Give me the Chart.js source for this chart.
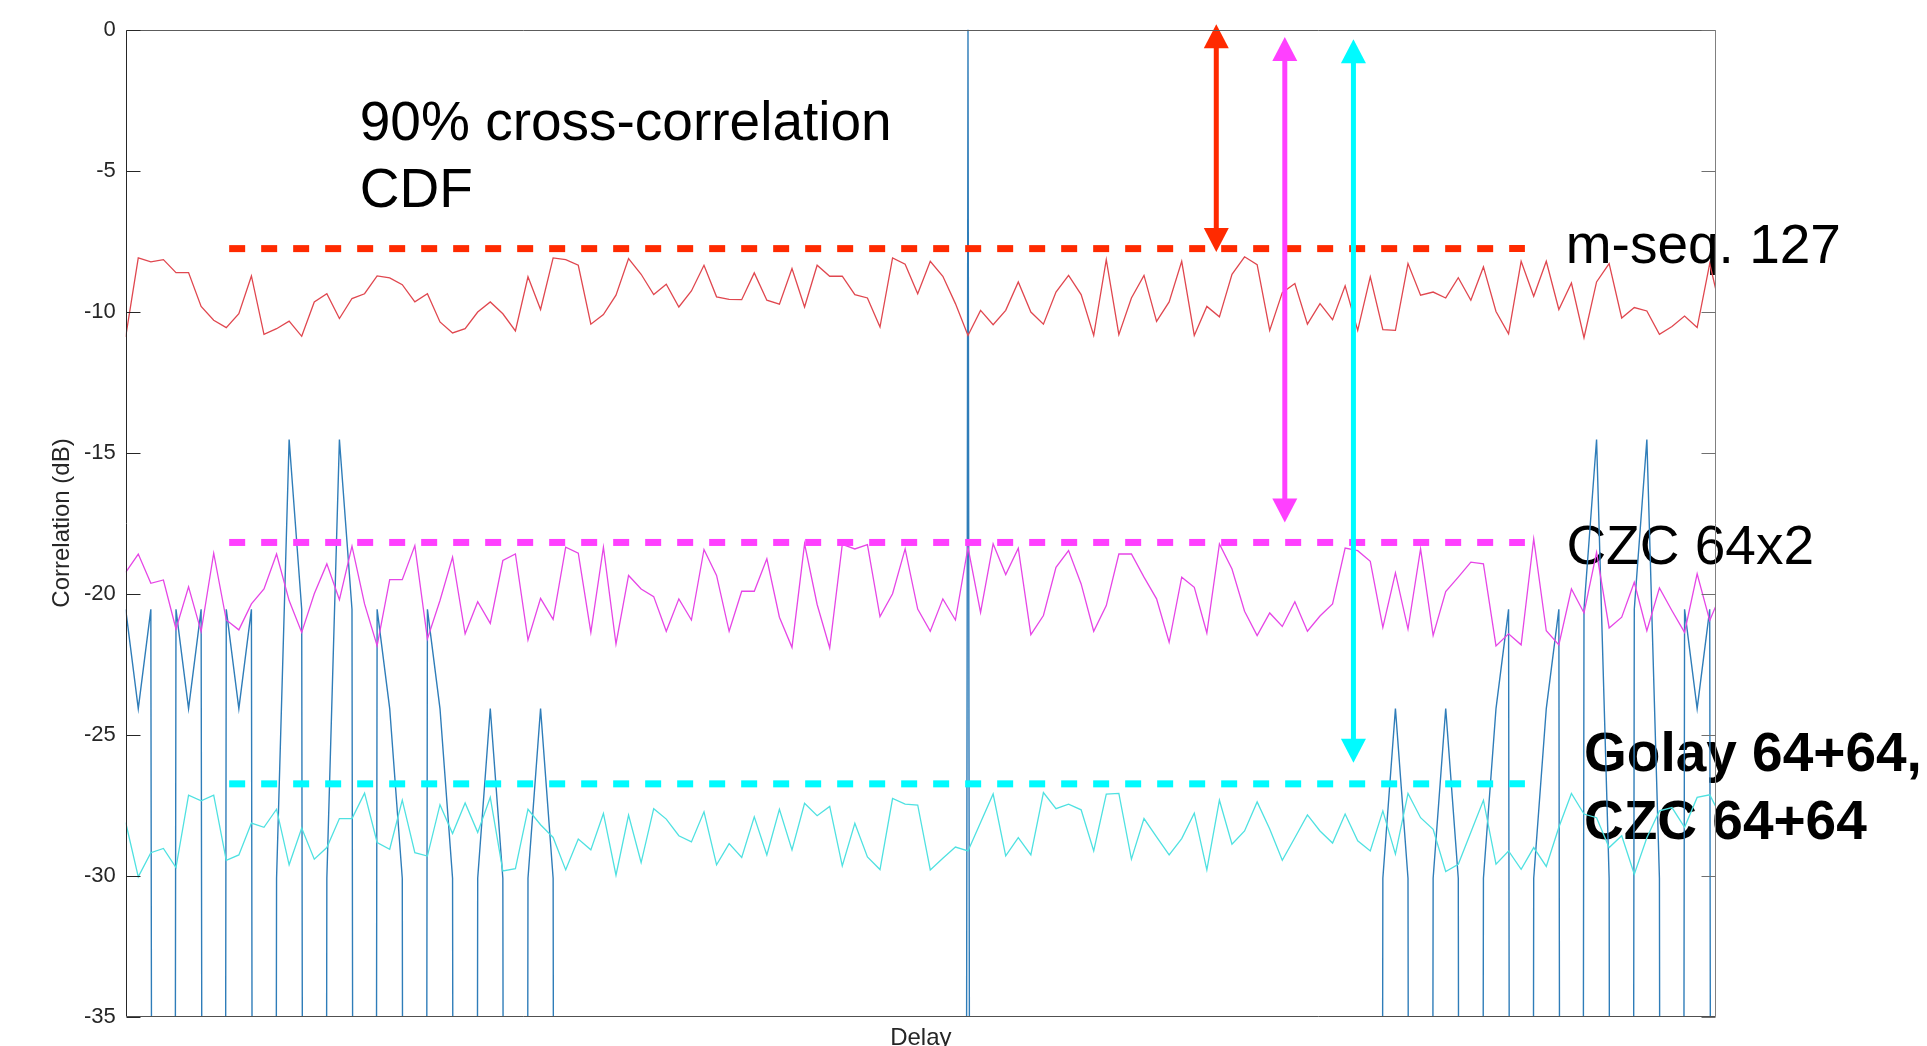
<!DOCTYPE html>
<html>
<head>
<meta charset="utf-8">
<script src="https://cdn.jsdelivr.net/npm/chart.js@4.4.1/dist/chart.umd.min.js"></script>
<style>
html,body{margin:0;padding:0;background:#ffffff;overflow:hidden}
canvas{display:block}
</style>
</head>
<body>
<canvas id="c" width="1927" height="1046"></canvas>
<script>
// ---------------- DATA ----------------
const delays = [0,1,2,3,4,5,6,7,8,9,10,11,12,13,14,15,16,17,18,19,20,21,22,23,24,25,26,27,28,29,
30,31,32,33,34,35,36,37,38,39,40,41,42,43,44,45,46,47,48,49,50,51,52,53,54,55,56,57,58,59,
60,61,62,63,64,65,66,67,68,69,70,71,72,73,74,75,76,77,78,79,80,81,82,83,84,85,86,87,88,89,
90,91,92,93,94,95,96,97,98,99,100,101,102,103,104,105,106,107,108,109,110,111,112,113,114,115,116,117,118,119,
120,121,122,123,124,125,126,127];

// m-sequence 127 cross-correlation (dB)
const mseq127 = [-10.9,-8.1,-8.24,-8.16,-8.62,-8.62,-9.82,-10.31,-10.57,-10.08,
-8.74,-10.81,-10.61,-10.34,-10.88,-9.66,-9.37,-10.25,-9.54,-9.37,
-8.74,-8.81,-9.05,-9.66,-9.37,-10.37,-10.76,-10.61,-10.02,-9.66,
-10.08,-10.69,-8.77,-9.93,-8.1,-8.16,-8.36,-10.45,-10.11,-9.42,
-8.12,-8.68,-9.4,-9.03,-9.84,-9.27,-8.36,-9.48,-9.57,-9.58,
-8.63,-9.6,-9.74,-8.48,-9.84,-8.36,-8.75,-8.75,-9.4,-9.52,
-10.55,-8.1,-8.32,-9.37,-8.22,-8.75,-9.72,-10.85,-9.96,-10.47,
-9.96,-8.95,-10.02,-10.45,-9.31,-8.72,-9.4,-10.85,-8.16,-10.82,
-9.52,-8.72,-10.35,-9.66,-8.22,-10.85,-9.82,-10.19,-8.68,-8.06,
-8.34,-10.67,-9.33,-9.01,-10.45,-9.72,-10.29,-9.09,-10.67,-8.77,
-10.64,-10.67,-8.3,-9.42,-9.31,-9.52,-8.8,-9.6,-8.42,-10.0,
-10.79,-8.22,-9.46,-8.22,-9.93,-8.99,-10.93,-8.95,-8.3,-10.23,
-9.86,-9.98,-10.81,-10.53,-10.16,-10.57,-8.3,-10.2];

// CZC 64x2 cross-correlation (dB)
const czc64x2 = [-19.25,-18.6,-19.64,-19.52,-21.26,-19.76,-21.35,-18.57,-20.94,-21.29,
-20.37,-19.84,-18.6,-20.25,-21.38,-20.01,-18.95,-20.22,-18.32,-20.37,
-21.85,-19.51,-19.51,-18.3,-21.61,-20.25,-18.71,-21.43,-20.29,-21.06,
-18.83,-18.6,-21.65,-20.17,-20.92,-18.36,-18.57,-21.38,-18.36,-21.79,
-19.36,-19.84,-20.11,-21.34,-20.19,-20.94,-18.44,-19.36,-21.34,-19.92,
-19.92,-18.77,-20.84,-21.91,-18.24,-20.39,-21.93,-18.26,-18.42,-18.27,
-20.82,-20.01,-18.42,-20.55,-21.34,-20.19,-20.94,-18.36,-20.67,-18.24,
-19.33,-18.39,-21.46,-20.78,-19.07,-18.48,-19.66,-21.34,-20.43,-18.6,
-18.6,-19.42,-20.19,-21.73,-19.42,-19.78,-21.4,-18.24,-19.13,-20.63,
-21.49,-20.69,-21.17,-20.29,-21.34,-20.8,-20.37,-18.39,-18.48,-18.86,
-21.2,-19.27,-21.26,-18.42,-21.49,-19.93,-19.42,-18.89,-18.95,-21.86,
-21.43,-21.82,-18.06,-21.32,-21.82,-19.84,-20.69,-18.54,-21.22,-20.84,
-19.6,-21.32,-19.8,-20.61,-21.38,-19.3,-20.96,-19.9];

// Golay 64+64 / CZC 64+64 cross-correlation (dB)
const golayCzc = [-28.12,-30.05,-29.19,-29.04,-29.72,-27.15,-27.35,-27.15,-29.46,-29.27,
-28.14,-28.29,-27.65,-29.62,-28.32,-29.42,-29.01,-27.98,-27.98,-27.08,
-28.83,-29.07,-27.33,-29.19,-29.31,-27.49,-28.51,-27.43,-28.47,-27.23,
-29.84,-29.76,-27.65,-28.2,-28.65,-29.8,-28.71,-29.09,-27.8,-29.99,
-27.86,-29.54,-27.63,-28.0,-28.59,-28.81,-27.74,-29.62,-28.87,-29.36,
-27.92,-29.27,-27.65,-29.09,-27.44,-27.88,-27.55,-29.66,-28.15,-29.34,
-29.79,-27.27,-27.47,-27.5,-29.8,-29.39,-28.99,-29.13,-28.12,-27.11,
-29.3,-28.66,-29.27,-27.06,-27.63,-27.47,-27.67,-29.13,-27.11,-27.09,
-29.42,-27.98,-28.63,-29.27,-28.69,-27.79,-29.8,-27.33,-28.89,-28.42,
-27.39,-28.35,-29.46,-28.66,-27.85,-28.42,-28.85,-27.82,-28.77,-29.13,
-27.71,-29.24,-27.09,-27.95,-28.36,-29.86,-29.6,-28.47,-27.33,-29.6,
-29.13,-29.78,-29.01,-29.68,-28.29,-27.09,-27.82,-27.95,-29.01,-28.59,
-29.95,-28.66,-27.71,-27.59,-28.29,-27.23,-27.14,-28.0];

// Autocorrelation (dB); L stands for an exact zero (-Inf dB)
const L = -320;
const golayAuto = [-20.56,-24.08,-20.56,L,-20.56,-24.08,-20.56,L,-20.56,-24.08,
-20.56,L,-30.1,-14.54,-20.56,L,-30.1,-14.54,-20.56,L,
-20.56,-24.08,-30.1,L,-20.56,-24.08,-30.1,L,-30.1,-24.08,
-30.1,L,-30.1,-24.08,-30.1,L,L,L,L,L,
L,L,L,L,L,L,L,L,L,L,
L,L,L,L,L,L,L,L,L,L,
L,L,L,L,L,L,L,0,L,L,
L,L,L,L,L,L,L,L,L,L,
L,L,L,L,L,L,L,L,L,L,
L,L,L,L,L,L,L,L,L,L,
-30.1,-24.08,-30.1,L,-30.1,-24.08,-30.1,L,-30.1,-24.08,
-20.56,L,-30.1,-24.08,-20.56,L,-20.56,-14.54,-30.1,L,
-20.56,-14.54,-30.1,L,-20.56,-24.08,-20.56,L];

// 90% CDF thresholds (dB)
const cdf90Labels = ['m-seq. 127', 'CZC 64x2', 'Golay 64+64, CZC 64+64'];
const cdf90Values = [-7.77, -18.19, -26.75];
const cdf90Span = [8.23, 111.3];   // delay range covered by the dashed threshold lines

const yTicks = [0, -5, -10, -15, -20, -25, -30, -35];

// ---------------- STYLE / ANNOTATIONS ----------------
const FAMILY = '"Liberation Sans", Arial, Helvetica, sans-serif';
Chart.defaults.font.family = FAMILY;

const seriesColors = ['#e0474f', '#e646e6', '#4fe1e1', '#2f7db9'];
const dashColors = ['#ff2a00', '#ff40ff', '#00fbff'];

// annotation positions in data units (delay, dB)
const texts = [
  {lines: ['90% cross-correlation', 'CDF'], x: 18.62, y: [-3.92, -6.29], font: 'normal 55px ' + FAMILY},
  {lines: ['m-seq. 127'], x: 114.55, y: [-8.29], font: 'normal 55px ' + FAMILY},
  {lines: ['CZC 64x2'], x: 114.6, y: [-18.94], font: 'normal 55px ' + FAMILY},
  {lines: ['Golay 64+64,', 'CZC 64+64'], x: 116.0, y: [-26.29, -28.7], font: 'bold 55px ' + FAMILY}
];
const arrows = [
  {x: 86.75, top: 0.19, bottom: -7.89, color: '#ff2a00'},
  {x: 92.2, top: -0.27, bottom: -17.48, color: '#ff40ff'},
  {x: 97.66, top: -0.35, bottom: -26.0, color: '#00fbff'}
];

const overlay = {
  id: 'overlay',
  beforeDatasetsDraw(chart) {
    const {ctx, scales: {x, y}} = chart;
    ctx.save();
    ctx.fillStyle = '#000';
    ctx.textAlign = 'left';
    ctx.textBaseline = 'alphabetic';
    texts.forEach(t => {
      ctx.font = t.font;
      t.lines.forEach((s, i) => ctx.fillText(s, x.getPixelForValue(t.x), y.getPixelForValue(t.y[i])));
    });
    ctx.restore();
  },
  afterDatasetsDraw(chart) {
    const {ctx, scales: {x, y}} = chart;
    ctx.save();
    const headW = 25, headL = 24, shaft = 5;
    arrows.forEach(a => {
      const px = x.getPixelForValue(a.x);
      const yt = y.getPixelForValue(a.top), yb = y.getPixelForValue(a.bottom);
      ctx.strokeStyle = a.color; ctx.fillStyle = a.color; ctx.lineWidth = shaft;
      ctx.beginPath(); ctx.moveTo(px, yt + headL - 1); ctx.lineTo(px, yb - headL + 1); ctx.stroke();
      ctx.beginPath(); ctx.moveTo(px, yt); ctx.lineTo(px - headW / 2, yt + headL); ctx.lineTo(px + headW / 2, yt + headL); ctx.closePath(); ctx.fill();
      ctx.beginPath(); ctx.moveTo(px, yb); ctx.lineTo(px - headW / 2, yb - headL); ctx.lineTo(px + headW / 2, yb - headL); ctx.closePath(); ctx.fill();
    });
    ctx.restore();
  },
  afterDraw(chart) {
    const {ctx, chartArea: ca, scales: {y}} = chart;
    ctx.save();
    ctx.lineWidth = 1;
    const L0 = Math.round(ca.left) + 0.5, R0 = Math.round(ca.right) - 0.5;
    const T0 = Math.round(ca.top) + 0.5, B0 = Math.round(ca.bottom) - 0.5;
    const seg = (c, x1, y1, x2, y2) => { ctx.strokeStyle = c; ctx.beginPath(); ctx.moveTo(x1, y1); ctx.lineTo(x2, y2); ctx.stroke(); };
    seg('#5c5c5c', L0, T0, R0, T0);
    seg('#808080', R0, T0, R0, B0);
    seg('#505050', L0, B0, R0, B0);
    seg('#262626', L0, T0, L0, B0);
    yTicks.forEach(v => {
      const py = Math.round(y.getPixelForValue(v)) + 0.5;
      seg('#262626', L0, py, L0 + 14, py);
      seg('#707070', R0 - 14, py, R0, py);
    });
    ctx.restore();
  }
};

function thresholdDataset(i) {
  return {
    data: [{x: cdf90Span[0], y: cdf90Values[i]}, {x: cdf90Span[1], y: cdf90Values[i]}],
    borderColor: dashColors[i], borderWidth: 7, borderDash: [16, 16], borderCapStyle: 'butt',
    pointRadius: 0, label: cdf90Labels[i] + ' 90% CDF'
  };
}
function series(label, values, color, width) {
  return {label, data: values, borderColor: color, borderWidth: width, pointRadius: 0, tension: 0, fill: false};
}

new Chart(document.getElementById('c').getContext('2d'), {
  type: 'line',
  data: {
    labels: delays,
    datasets: [
      thresholdDataset(0), thresholdDataset(1), thresholdDataset(2),
      series('m-seq. 127', mseq127, seriesColors[0], 1.3),
      series('CZC 64x2', czc64x2, seriesColors[1], 1.3),
      series('Golay 64+64, CZC 64+64', golayCzc, seriesColors[2], 1.3),
      series('Autocorrelation', golayAuto, seriesColors[3], 1.4)
    ]
  },
  options: {
    responsive: false,
    animation: false,
    devicePixelRatio: 1,
    layout: {padding: {left: 0, top: 29.5, right: 211, bottom: 0}},
    plugins: {legend: {display: false}, tooltip: {enabled: false}},
    elements: {point: {radius: 0}, line: {tension: 0}},
    scales: {
      x: {
        type: 'linear', min: 0, max: 126.5,
        ticks: {display: false},
        grid: {display: false, drawTicks: false},
        border: {display: false},
        title: {display: true, text: 'Delay', color: '#262626', font: {size: 24, lineHeight: 0.6}, padding: 0},
        afterFit(s) { s.height = 29.5; }
      },
      y: {
        type: 'linear', min: -35, max: 0,
        afterBuildTicks(s) { s.ticks = yTicks.map(v => ({value: v})); },
        ticks: {padding: 10, color: '#262626', font: {size: 22}},
        grid: {display: false, drawTicks: false},
        border: {display: false},
        title: {display: true, text: 'Correlation (dB)', color: '#262626', font: {size: 24}, padding: {top: 47.6, bottom: 0}},
        afterFit(s) { s.width = 125.7; }
      }
    }
  },
  plugins: [overlay]
});
</script>
</body>
</html>
